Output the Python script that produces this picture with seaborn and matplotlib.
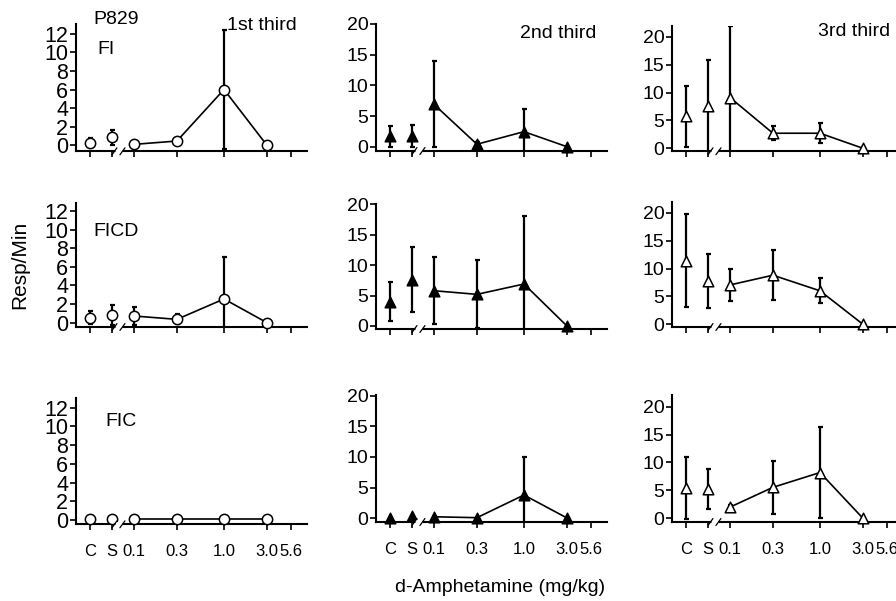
import matplotlib
matplotlib.use("Agg")
import matplotlib.pyplot as plt
import matplotlib.transforms as mtransforms
from matplotlib.ticker import NullLocator
import seaborn as sns

# ---------------- data ----------------
dose_labels = ["C", "S", "0.1", "0.3", "1.0", "3.0"]
dose_values = [0.0324, 0.0569, 0.1, 0.3, 1.0, 3.0]     # C and S placed left of the axis break
tick_labels = ["C", "S", "0.1", "0.3", "1.0", "3.0", "5.6"]
tick_values = [0.0324, 0.0569, 0.1, 0.3, 1.0, 3.0, 5.6]
schedules = ["FI", "FICD", "FIC"]
thirds = ["1st third", "2nd third", "3rd third"]
subject = "P829"

fi_1st = [0.3, 0.85, 0.1, 0.46, 6.0, 0.0]
fi_1st_err = [0.5, 0.8, 0.0, 0.0, 6.4, 0.0]
fi_2nd = [1.7, 1.7, 6.9, 0.4, 2.45, 0.0]
fi_2nd_err = [1.7, 1.8, 7.0, 0.3, 3.75, 0.0]
fi_3rd = [5.7, 7.6, 9.1, 2.7, 2.7, 0.0]
fi_3rd_err = [5.4, 8.2, 12.8, 1.3, 1.8, 0.0]

ficd_1st = [0.55, 0.8, 0.72, 0.36, 2.55, 0.0]
ficd_1st_err = [0.7, 1.1, 0.95, 0.55, 4.55, 0.0]
ficd_2nd = [4.0, 7.6, 5.8, 5.2, 6.9, 0.0]
ficd_2nd_err = [3.2, 5.35, 5.5, 5.6, 11.2, 0.0]
ficd_3rd = [11.4, 7.8, 7.05, 8.8, 6.0, 0.0]
ficd_3rd_err = [8.3, 4.85, 2.95, 4.5, 2.25, 0.0]

fic_1st = [0.1, 0.1, 0.1, 0.1, 0.1, 0.1]
fic_1st_err = [0.0, 0.0, 0.0, 0.0, 0.0, 0.0]
fic_2nd = [0.1, 0.35, 0.25, 0.1, 3.8, 0.05]
fic_2nd_err = [0.0, 0.0, 0.0, 0.0, 6.25, 0.0]
fic_3rd = [5.4, 5.2, 2.0, 5.55, 8.2, 0.0]
fic_3rd_err = [5.6, 3.6, 0.4, 4.8, 8.2, 0.0]

series = [
    [(fi_1st, fi_1st_err), (fi_2nd, fi_2nd_err), (fi_3rd, fi_3rd_err)],
    [(ficd_1st, ficd_1st_err), (ficd_2nd, ficd_2nd_err), (ficd_3rd, ficd_3rd_err)],
    [(fic_1st, fic_1st_err), (fic_2nd, fic_2nd_err), (fic_3rd, fic_3rd_err)],
]

# ---------------- style ----------------
sns.set_theme(style="ticks")
plt.rcParams["font.family"] = ["Liberation Sans", "DejaVu Sans"]

W, H = 896, 601
fig = plt.figure(figsize=(W / 100, H / 100), dpi=100)
fig.patch.set_facecolor("white")

# axes rectangles in pixels (left, top, right, bottom) and y calibration (px of 0, px of top tick, top tick value)
layout = [
    [(76, 24, 307, 151, 145.3, 33.7, 12), (376, 24, 607, 150.7, 146.7, 24, 20), (672, 26, 903, 151, 148.3, 36.7, 20)],
    [(76, 202.7, 307, 326.7, 322.7, 211, 12), (376, 204, 607, 328.7, 326, 204.3, 20), (672, 201.7, 903, 326.7, 324.3, 212.7, 20)],
    [(76, 398.3, 307, 524, 520, 407.7, 12), (376, 395, 607, 521.7, 518.3, 395.7, 20), (672, 395, 903, 521.7, 518.3, 406.7, 20)],
]
marker_styles = [("o", "white", 55), ("^", "black", 58), ("^", "white", 58)]
xlim = (10 ** -1.644, 10 ** 0.922)

for r in range(3):
    for c in range(3):
        L, T, R, B, y0, yt, tv = layout[r][c]
        ax = fig.add_axes([L / W, 1 - B / H, (R - L) / W, (B - T) / H])
        ax.set_facecolor("white")
        s = (y0 - yt) / tv
        ax.set_ylim(-(B - y0) / s, tv + (yt - T) / s)
        ax.set_xscale("log")
        ax.set_xlim(*xlim)

        mean, err = series[r][c]
        mk, face, size = marker_styles[c]
        ax.errorbar(dose_values, mean, yerr=err, fmt="none", ecolor="black",
                    elinewidth=1.6, capsize=1.8, capthick=1.6, zorder=3)
        sns.lineplot(x=dose_values[2:], y=mean[2:], ax=ax, color="black",
                     linewidth=1.2, zorder=2, legend=False)
        sns.scatterplot(x=dose_values, y=mean, ax=ax, marker=mk, s=size,
                        color=face, edgecolor="black", linewidth=1.1,
                        zorder=4, legend=False, clip_on=False)
        ax.set_xlabel("")
        ax.set_ylabel("")

        for sp in ["top", "right"]:
            ax.spines[sp].set_visible(False)
        for sp in ["left", "bottom"]:
            ax.spines[sp].set_linewidth(1.5)
            ax.spines[sp].set_color("black")

        ax.xaxis.set_minor_locator(NullLocator())
        ax.set_xticks(tick_values)
        if r == 2:
            ax.set_xticklabels(tick_labels)
        else:
            ax.set_xticklabels([""] * len(tick_labels))
        if c == 0:
            ax.set_yticks([0, 2, 4, 6, 8, 10, 12])
            ysz = 15.5
        else:
            ax.set_yticks([0, 5, 10, 15, 20])
            ysz = 14
        ax.tick_params(axis="y", direction="out", length=4, width=1.2,
                       labelsize=ysz, pad=1.5, colors="black")
        ax.tick_params(axis="x", direction="out", length=4, width=1.2,
                       labelsize=12, pad=10.5, colors="black")

        # axis break marks between S and 0.1
        trans = mtransforms.blended_transform_factory(ax.transData, ax.transAxes)
        ax.plot([0.0612, 0.0735], [0, 0], transform=trans, color="white",
                lw=3.5, clip_on=False, zorder=6, solid_capstyle="butt")
        for x0, x1 in [(0.0570, 0.0647), (0.0698, 0.0794)]:
            ax.plot([x0, x1], [-0.03, 0.025], transform=trans, color="black",
                    lw=0.9, clip_on=False, zorder=7)


def ftext(x, y, s, size, ha="left", **kw):
    fig.text(x / W, 1 - y / H, s, fontsize=size, ha=ha, va="center", color="black", **kw)


ftext(93, 19.5, subject, 14)
ftext(97, 50, schedules[0], 14)
ftext(93, 232, schedules[1], 14)
ftext(105, 422, schedules[2], 14)
ftext(227, 26, thirds[0], 14)
ftext(520, 33, thirds[1], 14)
ftext(818, 31, thirds[2], 14)
ftext(20, 265, "Resp/Min", 15, ha="center", rotation=90)
ftext(500, 588, "d-Amphetamine (mg/kg)", 14, ha="center")

fig.savefig("out.png", dpi=100, facecolor="white")
